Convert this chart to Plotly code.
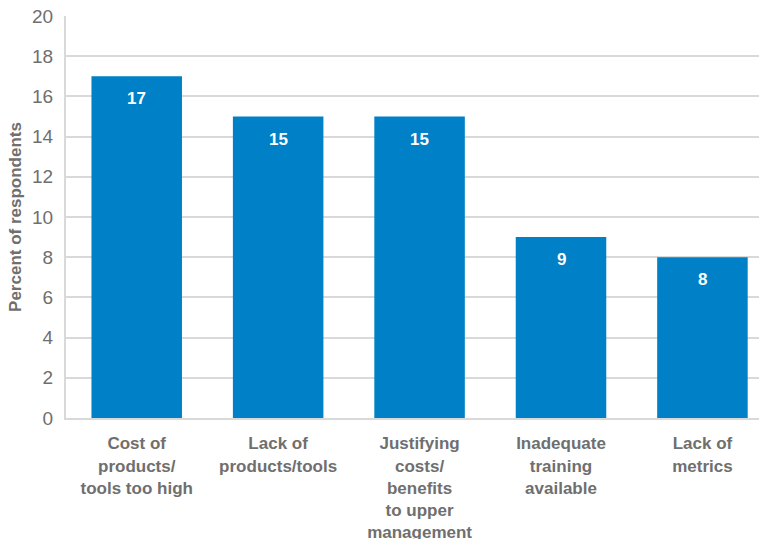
import plotly.graph_objects as go

# Survey results: barriers cited by respondents
categories = [
    "Cost of<br>products/<br>tools too high",
    "Lack of<br>products/tools",
    "Justifying<br>costs/<br>benefits<br>to upper<br>management",
    "Inadequate<br>training<br>available",
    "Lack of<br>metrics",
]
percent = [17, 15, 15, 9, 8]
y_ticks = [0, 2, 4, 6, 8, 10, 12, 14, 16, 18, 20]

BAR = "#0080C6"
GRID = "#D9D9D9"
TEXT = "#6F6F6F"
FONT = "Liberation Sans, Arial, sans-serif"

x_idx = list(range(len(categories)))

fig = go.Figure(
    go.Bar(
        x=x_idx,
        y=percent,
        width=0.64,
        marker=dict(color=BAR, line=dict(width=0)),
        hoverinfo="skip",
    )
)

# value labels inside the top of each bar
for xi, v in zip(x_idx, percent):
    fig.add_annotation(
        x=xi, y=v, text=f"<b>{v}</b>", showarrow=False,
        yanchor="top", yshift=-11,
        font=dict(family=FONT, size=17, color="white"),
    )

fig.update_layout(
    width=759, height=539,
    margin=dict(l=66, r=0, t=16, b=121),
    paper_bgcolor="white", plot_bgcolor="white",
    showlegend=False,
    font=dict(family=FONT, color=TEXT),
    bargap=0.36,
)

fig.update_xaxes(
    tickmode="array", tickvals=x_idx,
    ticktext=[f"<b>{c}</b>" for c in categories],
    range=[-0.5, 4.4],
    tickfont=dict(family=FONT, size=17, color=TEXT),
    showline=True, linecolor=GRID, linewidth=2,
    showgrid=False, ticks="", ticklabelstandoff=9,
    automargin=False,
)

fig.update_yaxes(
    range=[0, 20], tickmode="array", tickvals=y_ticks,
    tickfont=dict(family=FONT, size=19, color=TEXT),
    showgrid=True, gridcolor=GRID, gridwidth=1.5,
    zeroline=False,
    showline=True, linecolor=GRID, linewidth=2,
    ticks="", ticklabelstandoff=7,
    automargin=False,
    title=dict(text="<b>Percent of respondents</b>", standoff=6,
               font=dict(family=FONT, size=17, color=TEXT)),
)

fig.write_html("out.html")
